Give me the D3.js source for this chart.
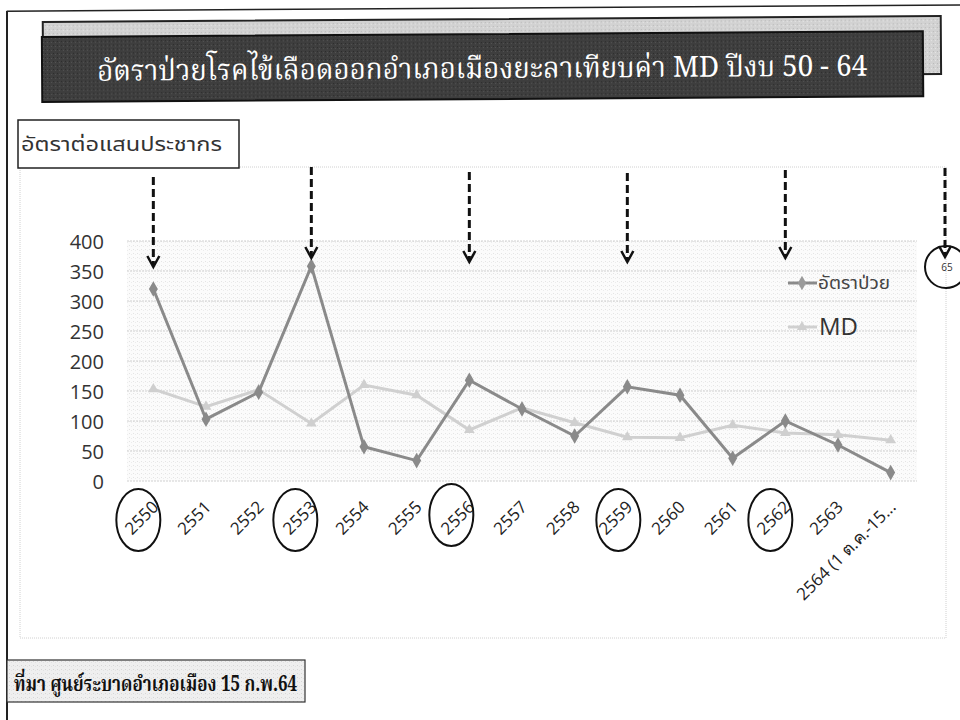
<!DOCTYPE html>
<html><head><meta charset="utf-8">
<script src="https://cdn.jsdelivr.net/npm/d3@7"></script>
<style>
body{margin:0;background:#fff;}
svg{display:block;}
</style></head>
<body>
<svg id="c" width="960" height="720"></svg>
<script>
const categories = ["2550","2551","2552","2553","2554","2555","2556","2557","2558","2559","2560","2561","2562","2563","2564 (1 ต.ค.-15..."];
const rateValues = [320,103,148,358,57,34,168,120,75,157,143,38,100,60,14];
const mdValues   = [153,124,152,96,160,143,85,122,97,73,72,93,80,77,68];
const yTicks = [0,50,100,150,200,250,300,350,400];
const seriesNames = ["อัตราป่วย","MD"];
const circledYears = ["2550","2553","2556","2559","2562"];
const titleText = "อัตราป่วยโรคไข้เลือดออกอำเภอเมืองยะลาเทียบค่า MD ปีงบ 50 - 64";
const yLabelText = "อัตราต่อแสนประชากร";
const sourceText = "ที่มา ศูนย์ระบาดอำเภอเมือง 15 ก.พ.64";

const svg = d3.select("#c");
const thai = "'Noto Sans Thai','Tahoma','DejaVu Sans','Noto Sans',sans-serif";
const serifThai = "'Noto Serif Thai','Liberation Serif','DejaVu Serif',serif";
const latin = "'Open Sans','Noto Sans',sans-serif";

// stipple patterns
const defs = svg.append("defs");
function stipple(id,bg,dot1,dot2){
  const p = defs.append("pattern").attr("id",id).attr("width",4).attr("height",4).attr("patternUnits","userSpaceOnUse");
  p.append("rect").attr("width",4).attr("height",4).attr("fill",bg);
  p.append("rect").attr("x",1).attr("y",1).attr("width",1).attr("height",1).attr("fill",dot1);
  p.append("rect").attr("x",3).attr("y",2).attr("width",1).attr("height",1).attr("fill",dot2);
}
stipple("stip","#fbfbfb","#e4e4e4","#ececec");
stipple("stipLight","#d2d2d2","#b8b8b8","#e6e6e6");
stipple("stipDark","#3e3e3e","#2a2a2a","#555555");
stipple("stipFoot","#efefef","#d6d6d6","#e2e2e2");

// header (slightly tilted like the scan)
const head = svg.append("g").attr("transform","rotate(-0.38,42,60)");
head.append("line").attr("x1",7).attr("x2",975).attr("y1",11).attr("y2",11).attr("stroke","#222").attr("stroke-width",1.5);
head.append("rect").attr("x",43).attr("y",22).attr("width",898).attr("height",58).attr("fill","url(#stipLight)").attr("stroke","#222").attr("stroke-width",2);
head.append("rect").attr("x",42).attr("y",37).attr("width",881).attr("height",65).attr("fill","url(#stipDark)").attr("stroke","#111").attr("stroke-width",2);
head.append("text").attr("x",482).attr("y",81).attr("text-anchor","middle").attr("fill","#fff")
  .attr("font-family",serifThai).attr("font-size",29).attr("textLength",770).attr("lengthAdjust","spacingAndGlyphs").text(titleText);
svg.append("line").attr("x1",7).attr("x2",7).attr("y1",11).attr("y2",720).attr("stroke","#222").attr("stroke-width",2);

// chart area
svg.append("rect").attr("x",20).attr("y",167).attr("width",926).attr("height",471).attr("fill","#fff").attr("stroke","#d0d0d0").attr("stroke-dasharray","1,1");

// y label box
svg.append("rect").attr("x",18).attr("y",120).attr("width",221).attr("height",48).attr("fill","#fff").attr("stroke","#222").attr("stroke-width",1.5);
svg.append("text").attr("x",21).attr("y",151).attr("fill","#333").attr("font-family",thai).attr("font-size",20)
  .attr("textLength",201).attr("lengthAdjust","spacingAndGlyphs").text(yLabelText);

// scales
const x = d3.scalePoint().domain(categories).range([127,917]).padding(0.5);
const y = d3.scaleLinear().domain([0,400]).range([481,241]);

// plot area
svg.append("rect").attr("x",127).attr("y",241).attr("width",790).attr("height",240).attr("fill","url(#stip)");
svg.append("g").selectAll("line").data(yTicks).join("line")
  .attr("x1",127).attr("x2",917).attr("y1",d=>y(d)).attr("y2",d=>y(d))
  .attr("stroke","#d0d0d0").attr("stroke-dasharray","2,1");

// y axis
const yAxis = d3.axisLeft(y).tickValues(yTicks).tickSize(0).tickPadding(0);
const gy = svg.append("g").attr("transform","translate(104,1)").call(yAxis);
gy.select(".domain").remove();
gy.selectAll("text").attr("font-family",latin).attr("font-size",20).attr("fill","#333");

// x axis
const xAxis = d3.axisBottom(x).tickSize(0).tickPadding(0);
const gx = svg.append("g").call(xAxis);
gx.select(".domain").remove();
gx.selectAll(".tick").attr("transform",d=>`translate(${x(d)},0)`);
gx.selectAll("text").attr("font-family",latin).attr("font-size",17).attr("fill","#222")
  .attr("text-anchor","end").attr("y",0).attr("dy","0.35em")
  .attr("transform","translate(2,504) rotate(-45)");

// circles around years (hand-drawn annotation offsets)
const circleDx = [-15,-16,-18,-9,-15];
const circleCy = [520,520,515,520,520];
svg.append("g").selectAll("ellipse").data(circledYears).join("ellipse")
  .attr("cx",(d,i)=>x(d)+circleDx[i]).attr("cy",(d,i)=>circleCy[i]).attr("rx",22).attr("ry",31)
  .attr("fill","none").attr("stroke","#111").attr("stroke-width",2);

// lines
const line = d3.line().x((d,i)=>x(categories[i])).y(d=>y(d));
svg.append("path").datum(mdValues).attr("d",line).attr("fill","none").attr("stroke","#d0d0d0").attr("stroke-width",3);
svg.append("g").selectAll("path").data(mdValues).join("path")
  .attr("d",d3.symbol(d3.symbolTriangle,50)).attr("transform",(d,i)=>`translate(${x(categories[i])},${y(d)})`)
  .attr("fill","#cfcfcf");
svg.append("path").datum(rateValues).attr("d",line).attr("fill","none").attr("stroke","#8a8a8a").attr("stroke-width",3);
svg.append("g").selectAll("path").data(rateValues).join("path")
  .attr("d",d3.symbol(d3.symbolDiamond,70)).attr("transform",(d,i)=>`translate(${x(categories[i])},${y(d)})`)
  .attr("fill","#8a8a8a");

// legend
const lg = svg.append("g");
lg.append("line").attr("x1",788).attr("x2",817).attr("y1",283).attr("y2",283).attr("stroke","#8a8a8a").attr("stroke-width",3);
lg.append("path").attr("d",d3.symbol(d3.symbolDiamond,60)).attr("transform","translate(802,283)").attr("fill","#9a9a9a");
lg.append("text").attr("x",818).attr("y",289).attr("font-family",thai).attr("font-size",17).attr("fill","#444")
  .attr("textLength",72).attr("lengthAdjust","spacingAndGlyphs").text(seriesNames[0]);
lg.append("line").attr("x1",788).attr("x2",817).attr("y1",327).attr("y2",327).attr("stroke","#d0d0d0").attr("stroke-width",3);
lg.append("path").attr("d",d3.symbol(d3.symbolTriangle,45)).attr("transform","translate(802,327)").attr("fill","#cfcfcf");
lg.append("text").attr("x",819).attr("y",335).attr("font-family",latin).attr("font-size",24).attr("fill","#333").text(seriesNames[1]);

// dashed arrows
const arrows = [["2550",177,267],["2553",167,258],["2556",172,262],["2559",173,262],["2562",170,258]];
const ag = svg.append("g");
function arrow(ax,y1,y2){
  ag.append("line").attr("x1",ax).attr("x2",ax).attr("y1",y1).attr("y2",y2-2).attr("stroke","#111").attr("stroke-width",3).attr("stroke-dasharray","8,4");
  ag.append("path").attr("d",`M${ax-6},${y2-11} L${ax},${y2} L${ax+6},${y2-11}`).attr("fill","none").attr("stroke","#111").attr("stroke-width",2.5);
}
arrows.forEach(a=>arrow(x(a[0]),a[1],a[2]));
arrow(945,168,257);
svg.append("circle").attr("cx",946).attr("cy",267).attr("r",21).attr("fill","none").attr("stroke","#111").attr("stroke-width",2);
svg.append("text").attr("x",947).attr("y",271).attr("text-anchor","middle").attr("font-family",latin).attr("font-size",10).attr("fill","#333").text("65");

// source box
svg.append("rect").attr("x",7).attr("y",660).attr("width",298).attr("height",42).attr("fill","url(#stipFoot)").attr("stroke","#333").attr("stroke-width",1.2);
svg.append("text").attr("x",14).attr("y",691).attr("font-family",serifThai).attr("font-weight","bold").attr("font-size",21).attr("fill","#111")
  .attr("textLength",283).attr("lengthAdjust","spacingAndGlyphs").text(sourceText);
</script>
</body></html>
